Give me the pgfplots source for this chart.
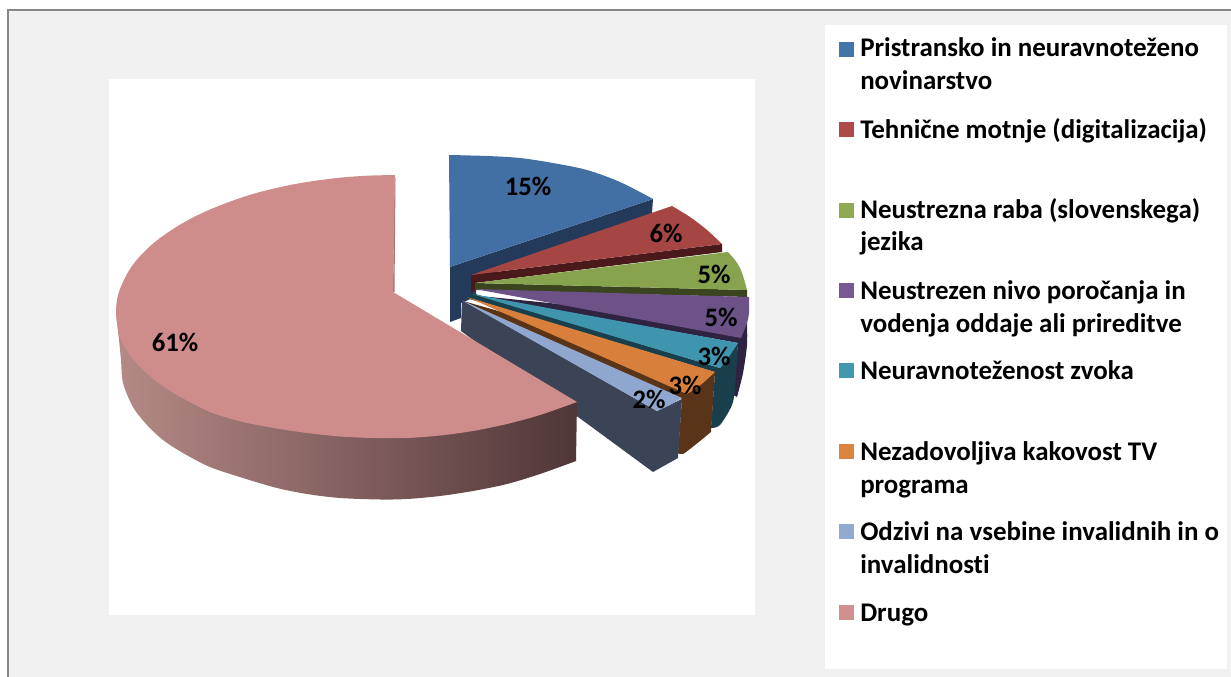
\documentclass[border=0pt]{standalone}
\usepackage{fontspec}
\setmainfont[Ligatures=NoCommon]{Carlito}
\usepackage{pgfplots}
\pgfplotsset{compat=1.18}
\definecolor{cBlue}{HTML}{426FA4}\definecolor{cBlueD}{HTML}{233A5A}
\definecolor{cRed}{HTML}{A54544}\definecolor{cRedD}{HTML}{4A1A1A}
\definecolor{cGreen}{HTML}{87A34E}\definecolor{cGreenD}{HTML}{3A4520}
\definecolor{cPurple}{HTML}{6D5288}\definecolor{cPurpleD}{HTML}{2E2340}
\definecolor{cTeal}{HTML}{3F95AD}\definecolor{cTealD}{HTML}{1A3F4C}
\definecolor{cOrange}{HTML}{D87F3C}\definecolor{cOrangeD}{HTML}{5A3418}
\definecolor{cLight}{HTML}{8FA6CF}\definecolor{cLightD}{HTML}{3A4456}
\definecolor{cPink}{HTML}{CE8C8B}
\definecolor{sBlue}{HTML}{4475A8}\definecolor{sRed}{HTML}{B04A48}
\definecolor{sGreen}{HTML}{8FAA52}\definecolor{sPurple}{HTML}{775A94}
\definecolor{sTeal}{HTML}{4198AF}\definecolor{sOrange}{HTML}{DB843D}
\definecolor{sLight}{HTML}{93A9CF}\definecolor{sPink}{HTML}{D09090}
\definecolor{gL}{HTML}{B58A86}\definecolor{gM}{HTML}{825E5C}\definecolor{gR}{HTML}{503638}
\definecolor{panel}{HTML}{F1F1F1}
\tikzset{
  lab/.style={font=\fontsize{20pt}{21pt}\selectfont\bfseries, inner sep=0pt, anchor=center, text=black},
  leg/.style={font=\fontsize{20.2pt}{21pt}\selectfont\bfseries, inner sep=0pt, anchor=base west, text=black},
}
\begin{document}
\begin{tikzpicture}
\begin{axis}[
  scale only axis, width=923.25pt, height=507.75pt,
  xmin=0, xmax=1231, ymin=0, ymax=677, y dir=reverse,
  hide axis, clip=true,
  every axis plot/.append style={forget plot, draw=none},
]
% frame and panels
\addplot[fill=white] coordinates {(0,0)(1231,0)(1231,677)(0,677)} -- cycle;
\addplot[fill=black!47] coordinates {(7,9)(1231,9)(1231,677)(7,677)} -- cycle;
\addplot[fill=panel] coordinates {(9,11)(1231,11)(1231,677)(9,677)} -- cycle;
\addplot[fill=white] coordinates {(109,79)(755,79)(755,615)(109,615)} -- cycle;
\addplot[fill=white] coordinates {(825,25)(1227,25)(1227,669)(825,669)} -- cycle;
% blue slice
\addplot[fill=cBlueD] coordinates {(450,267)(653,199)(652,213)(476,280)(476,296)(466,301)(461,303)(461,318)(450,322)} -- cycle;
\addplot[fill=cBlue,smooth] coordinates {(449,155)(487,156)(520,158)(553,163)(587,170)(620,182)(653,199)} -- (axis cs:450,267) -- cycle;
% red slice
\addplot[fill=cRedD] coordinates {(471,275)(722,244)(722,252)(475,283)(475,290)(471,293)} -- cycle;
\addplot[fill=cRed,smooth] coordinates {(672,206)(690,217)(707,230)(722,244)} -- (axis cs:471,275) -- cycle;
% green slice
\addplot[fill=cGreenD] coordinates {(475,283)(747,290)(747,297)(475,290)} -- cycle;
\addplot[fill=cGreen,smooth] coordinates {(728,252)(735,260)(740,268)(744,279)(747,290)} -- (axis cs:475,283) -- cycle;
% purple slice
\addplot[fill=cPurpleD,smooth] coordinates {(747,323)(747,345)(743,373)(737,397)} -- (axis cs:733,395) -- (axis cs:738,343) -- (axis cs:470,295) -- cycle;
\addplot[fill=cPurple,smooth] coordinates {(749,297)(749,313)(747,323)(741,338)} -- (axis cs:475,289) -- cycle;
% teal slice
\addplot[fill=cTealD,smooth] coordinates {(738,343)(735,387)(732,405)(720,425)(711,428)} -- (axis cs:715,372) -- (axis cs:466,298) -- (axis cs:472,293) -- (axis cs:720,368) -- cycle;
\addplot[fill=cTeal,smooth] coordinates {(738,343)(728,358)(720,368)} -- (axis cs:472,294) -- cycle;
% orange slice
\addplot[fill=cOrangeD,smooth] coordinates {(711,432)(695,445)(683,454)(678,453)} -- (axis cs:682,399) -- (axis cs:463,301) -- (axis cs:715,372) -- cycle;
\addplot[fill=cOrange,smooth] coordinates {(715,372)(703,383)(695,389)(687,394)} -- (axis cs:467,297) -- cycle;
% light blue slice
\addplot[fill=cLightD] coordinates {(462,300)(657,411)(682,399)(678,458)(653,472)(461,331)} -- cycle;
\addplot[fill=cLight] coordinates {(463,301)(682,398)(670,405)(657,411)} -- cycle;
% pink slice
\addplot[left color=gL, middle color=gM, right color=gR, smooth]
  coordinates {(116,312)(119,340)(121,360)(123,383)(133,407)(147,425)(163,440)(183,453)(210,467)(243,478)(277,488)(307,494)(340,498)(380,499.5)(407,499)(440,496)(473,491)(507,484)(540,474)(576,461)} -- (axis cs:577,402) -- cycle;
\addplot[fill={rgb,255:red,168;green,116;blue,114}] coordinates {(395.5,178)(394.5,292)(393,292)(394.5,178)} -- cycle;
\addplot[fill=cPink,smooth] coordinates {(577,402)(540,415)(507,424)(473,431)(440,435.5)(407,438)(373,438)(340,436.5)(307,433)(277,428.5)(243,422)(210,412)(177,395)(160,384)(143,370)(130,355)(120,338)(117,323)(116,312)(117,300)(120,289)(127,274)(135,262)(147,249)(160,238)(177,226.5)(193,217.5)(210,209.5)(235,199.8)(260,192)(290,185)(317,180.5)(345,177.2)(370,175.6)(395,175)} -- (axis cs:393,292) -- cycle;
% legend swatches
\addplot[fill=sBlue] coordinates {(839,42)(854,42)(854,57)(839,57)} -- cycle;
\addplot[fill=sRed] coordinates {(839,122)(854,122)(854,137)(839,137)} -- cycle;
\addplot[fill=sGreen] coordinates {(839,203)(854,203)(854,218)(839,218)} -- cycle;
\addplot[fill=sPurple] coordinates {(839,283)(854,283)(854,298)(839,298)} -- cycle;
\addplot[fill=sTeal] coordinates {(839,363)(854,363)(854,378)(839,378)} -- cycle;
\addplot[fill=sOrange] coordinates {(839,444)(854,444)(854,459)(839,459)} -- cycle;
\addplot[fill=sLight] coordinates {(839,524)(854,524)(854,539)(839,539)} -- cycle;
\addplot[fill=sPink] coordinates {(839,605)(854,605)(854,620)(839,620)} -- cycle;
% data labels
\node[lab] at (axis cs:528,186) {15\%};
\node[lab] at (axis cs:666,233) {6\%};
\node[lab] at (axis cs:714,274) {5\%};
\node[lab] at (axis cs:721,317) {5\%};
\node[lab] at (axis cs:714,356) {3\%};
\node[lab] at (axis cs:685,385) {3\%};
\node[lab] at (axis cs:649,399) {2\%};
\node[lab] at (axis cs:175,342) {61\%};
% legend text
\node[leg] at (axis cs:860,57) {Pristransko in neuravnoteženo};
\node[leg] at (axis cs:860,90) {novinarstvo};
\node[leg] at (axis cs:860,139) {Tehnične motnje (digitalizacija)};
\node[leg] at (axis cs:860,219) {Neustrezna raba (slovenskega)};
\node[leg] at (axis cs:860,251) {jezika};
\node[leg] at (axis cs:860,300) {Neustrezen nivo poročanja in};
\node[leg] at (axis cs:860,332) {vodenja oddaje ali prireditve};
\node[leg] at (axis cs:860,379) {Neuravnoteženost zvoka};
\node[leg] at (axis cs:860,460) {Nezadovoljiva kakovost TV};
\node[leg] at (axis cs:860,493) {programa};
\node[leg] at (axis cs:860,540) {Odzivi na vsebine invalidnih in o};
\node[leg] at (axis cs:860,573) {invalidnosti};
\node[leg] at (axis cs:860,621) {Drugo};
\end{axis}
\end{tikzpicture}
\end{document}
